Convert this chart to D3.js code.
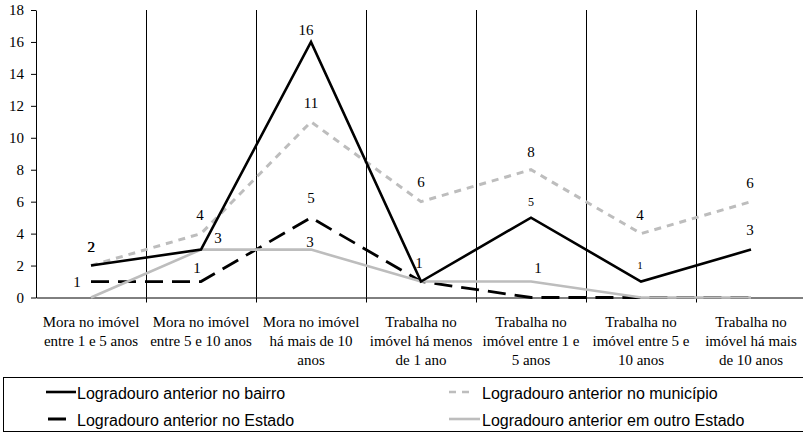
<!DOCTYPE html>
<html>
<head>
<meta charset="utf-8">
<script src="https://cdn.jsdelivr.net/npm/d3@7"></script>
<style>
  html, body { margin: 0; padding: 0; background: #fff; }
  svg { display: block; }
</style>
</head>
<body>
<svg id="chart" width="803" height="433"></svg>
<script>
// Categories (tempo de moradia / trabalho no imóvel), one line of the label per "\n"
const categories = [
  "Mora no imóvel\nentre 1 e 5 anos",
  "Mora no imóvel\nentre 5 e 10 anos",
  "Mora no imóvel\nhá mais de 10\nanos",
  "Trabalha no\nimóvel há menos\nde 1 ano",
  "Trabalha no\nimóvel entre 1 e\n5 anos",
  "Trabalha no\nimóvel entre 5 e\n10 anos",
  "Trabalha no\nimóvel há mais\nde 10 anos"
];

const bairro      = [2, 3, 16, 1, 5, 1, 3];
const municipio   = [2, 4, 11, 6, 8, 4, 6];
const estado      = [1, 1, 5, 1, 0, 0, 0];
const outroEstado = [0, 3, 3, 1, 1, 0, 0];

const seriesNames = [
  "Logradouro anterior no bairro",
  "Logradouro anterior no município",
  "Logradouro anterior no Estado",
  "Logradouro anterior em outro Estado"
];

const yTicks = [0, 2, 4, 6, 8, 10, 12, 14, 16, 18];

const SERIF = "'Liberation Serif', 'Times New Roman', serif";
const SANS = "'Liberation Sans', Arial, sans-serif";

const svg = d3.select("#chart");

const plot = { left: 36, right: 806, top: 10, bottom: 297.5 };

const x = d3.scaleBand().domain(d3.range(categories.length))
  .range([plot.left, plot.right]).paddingInner(0).paddingOuter(0);
const xEdge = d3.scaleLinear().domain([0, categories.length]).range([plot.left, plot.right]);
const y = d3.scaleLinear().domain([0, 18]).range([plot.bottom, plot.top]);
const cx = i => x(i) + x.bandwidth() / 2;

// Series styles
const series = [
  { key: "bairro",    name: seriesNames[0], values: bairro,      color: "#000",    width: 2.6, dash: null },
  { key: "municipio", name: seriesNames[1], values: municipio,   color: "#bdbdbd", width: 3,   dash: "7,6" },
  { key: "estado",    name: seriesNames[2], values: estado,      color: "#000",    width: 2.8, dash: "18,9" },
  { key: "outro",     name: seriesNames[3], values: outroEstado, color: "#bdbdbd", width: 2.6, dash: null }
];

// Vertical separators between categories
svg.append("g")
  .attr("transform", `translate(0,${plot.bottom})`)
  .call(d3.axisBottom(xEdge).tickValues(d3.range(1, categories.length + 1))
    .tickSize(-(plot.bottom - plot.top)).tickFormat(""))
  .call(g => g.select(".domain").remove())
  .call(g => g.selectAll("line").attr("stroke", "#000").attr("stroke-width", 1));

// X axis with ticks on category boundaries
svg.append("g")
  .attr("transform", `translate(0,${plot.bottom})`)
  .call(d3.axisBottom(xEdge).tickValues(d3.range(1, categories.length + 1))
    .tickSize(5).tickSizeOuter(0).tickFormat(""))
  .call(g => g.selectAll("line,path").attr("stroke", "#000"));

// Y axis
svg.append("g")
  .attr("transform", `translate(${plot.left},0)`)
  .call(d3.axisLeft(y).tickValues(yTicks).tickSize(5).tickSizeOuter(0).tickPadding(7))
  .attr("font-family", SERIF)
  .attr("font-size", 15)
  .call(g => g.selectAll("line,path").attr("stroke", "#000"))
  .call(g => g.selectAll("text").attr("fill", "#000"));

// Category labels
const catG = svg.append("g").attr("font-family", SERIF).attr("font-size", 15);
categories.forEach((c, i) => {
  const t = catG.append("text")
    .attr("x", cx(i)).attr("y", 327)
    .attr("text-anchor", "middle")
    .attr("fill", "#000");
  c.split("\n").forEach((line, k) => {
    t.append("tspan").attr("x", cx(i)).attr("y", 327 + k * 18.8).text(line);
  });
});

// Lines (grey solid series sits above the black dashed one)
const line = d3.line().x((d, i) => cx(i)).y(d => y(d));
const drawOrder = ["estado", "outro", "municipio", "bairro"];
drawOrder.forEach(k => {
  const s = series.find(s => s.key === k);
  svg.append("path")
    .datum(s.values)
    .attr("d", line)
    .attr("fill", "none")
    .attr("stroke", s.color)
    .attr("stroke-width", s.width)
    .attr("stroke-dasharray", s.dash)
    .attr("stroke-linejoin", "miter");
});

// Data labels: [series key, point index, dx, dy (text centre from point), font size]
const labelPlacement = [
  ["municipio", 0, 0, -18.5, 15],
  ["bairro",    0, 0.4, -18.5, 15],
  ["estado",    0, -14, 0, 15],
  ["municipio", 1, -1, -18.5, 15],
  ["bairro",    1, 17, -11.5, 15],
  ["estado",    1, -4, -13.5, 15],
  ["bairro",    2, -5, -12, 15],
  ["municipio", 2, 0, -19, 15],
  ["estado",    2, 0, -20, 15],
  ["outro",     2, -1, -8, 15],
  ["municipio", 3, 0, -19.5, 15],
  ["bairro",    3, -2, -18.5, 15],
  ["municipio", 4, 0, -18, 15],
  ["bairro",    4, 0, -16, 12],
  ["outro",     4, 7, -13.5, 15],
  ["municipio", 5, -1, -18.5, 15],
  ["bairro",    5, -1, -16.5, 11],
  ["municipio", 6, -1, -19, 15],
  ["bairro",    6, -1, -19.5, 15]
];
const lblG = svg.append("g").attr("font-family", SERIF);
labelPlacement.forEach(([k, i, dx, dy, fs]) => {
  const s = series.find(s => s.key === k);
  lblG.append("text")
    .attr("x", cx(i) + dx)
    .attr("y", y(s.values[i]) + dy)
    .attr("dy", "0.34em")
    .attr("text-anchor", "middle")
    .attr("font-size", fs)
    .attr("fill", "#000")
    .text(s.values[i]);
});

// Legend
const legend = svg.append("g").attr("font-family", SANS);
legend.append("rect")
  .attr("x", 3.5).attr("y", 377.5).attr("width", 820).attr("height", 54)
  .attr("fill", "none").attr("stroke", "#000").attr("stroke-width", 1);

const legendItems = [
  { s: series[0], x0: 46, x1: 76, tx: 77, ty: 392 },
  { s: series[1], x0: 449, x1: 473, tx: 482, ty: 392 },
  { s: series[2], x0: 48, x1: 66, tx: 77, ty: 419 },
  { s: series[3], x0: 449, x1: 480, tx: 482, ty: 419 }
];
legendItems.forEach(it => {
  legend.append("line")
    .attr("x1", it.x0).attr("x2", it.x1)
    .attr("y1", it.ty).attr("y2", it.ty)
    .attr("stroke", it.s.color)
    .attr("stroke-width", it.s.key === "estado" ? 3 : 2.6)
    .attr("stroke-dasharray", it.s.key === "municipio" ? "7,6" : null);
  legend.append("text")
    .attr("x", it.tx).attr("y", it.ty + 1)
    .attr("dy", "0.35em")
    .attr("font-size", 16).attr("fill", "#000")
    .text(it.s.name);
});
</script>
</body>
</html>
